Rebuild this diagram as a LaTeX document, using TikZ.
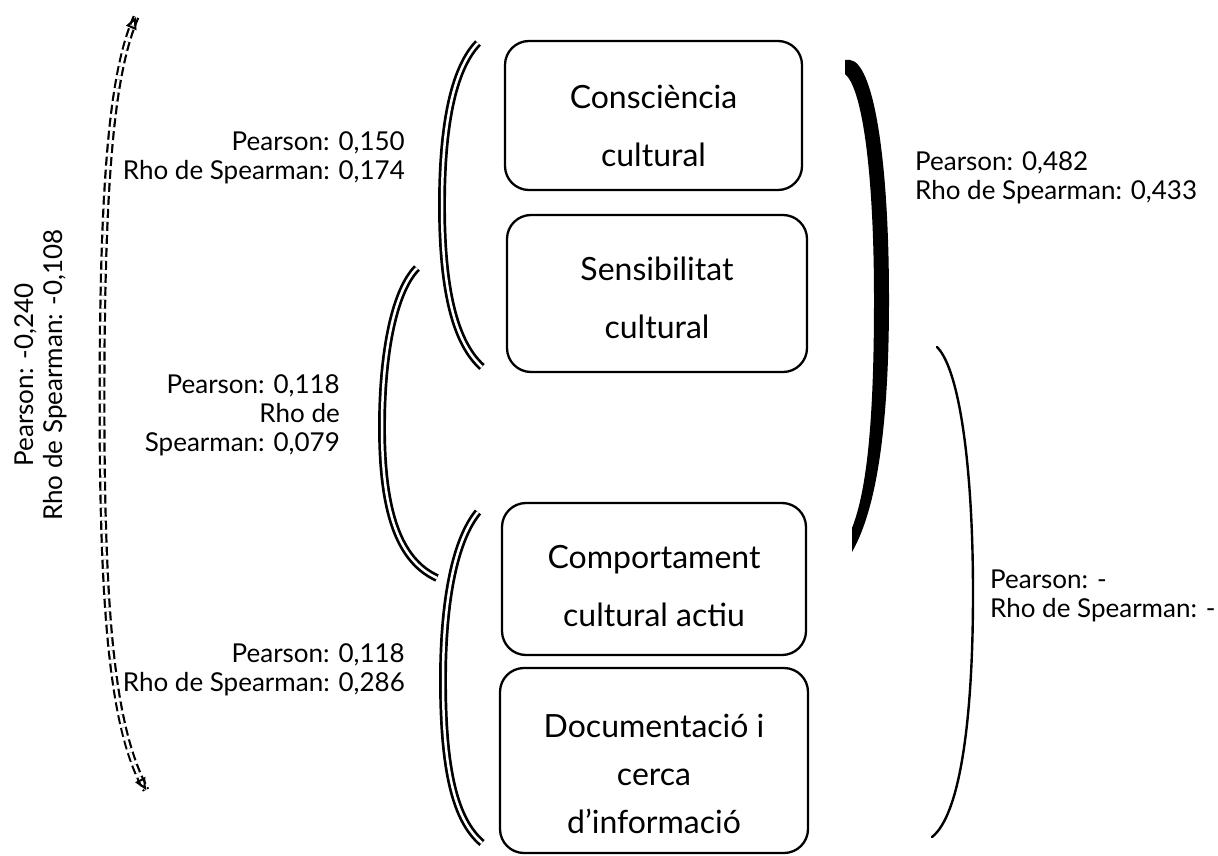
\documentclass[tikz,border=0pt]{standalone}
\usepackage{fontspec}
\setmainfont{Lato}
\usetikzlibrary{arrows.meta}
\tikzset{
  box/.style={draw, line width=2.3pt, rounded corners=24pt, inner sep=0pt},
  boxtxt/.style={align=center, inner sep=0pt, font=\fontsize{32}{58}\selectfont},
  lbl/.style={inner sep=0pt, font=\fontsize{26}{29}\selectfont},
  dbl/.style={draw, line width=2.7pt, double=white, double distance=2.5pt},
  thin/.style={draw, line width=2.4pt, line cap=round},
  dashdbl/.style={draw, line width=2.2pt, double=white, double distance=2.5pt, dash pattern=on 9pt off 4pt},
  opentip/.tip={Triangle[open,length=12pt,width=11pt,line width=2pt,color=black]},
  tipsonly/.style={draw=white, line width=0.3pt, opentip-opentip},
}
\begin{document}
\begin{tikzpicture}[x=1pt,y=-1pt]
\useasboundingbox (0,0) rectangle (1218,856);
% boxes
\node[box, minimum width=297pt, minimum height=149pt] (b1) at (653.5,115.5) {};
\node[box, minimum width=300pt, minimum height=157pt] (b2) at (657,293.5) {};
\node[box, minimum width=304pt, minimum height=152pt] (b3) at (654,579) {};
\node[box, minimum width=308pt, minimum height=185pt] (b4) at (654,760.5) {};
\node[boxtxt] (x1) at (653.5,126) {Consciència\\cultural};
\node[boxtxt] (x2) at (657,297.5) {Sensibilitat\\cultural};
\node[boxtxt] (x3) at (654,586.5) {Comportament\\cultural actiu};
\node[boxtxt, font=\fontsize{32}{48}\selectfont] (x4) at (654,774) {Documentació i\\cerca\\d’informació};
% bracket anchors
\coordinate (a1) at (478,43);  \coordinate (a2) at (482,367);
\coordinate (c1) at (417,268); \coordinate (c2) at (437,578);
\coordinate (e1) at (478,512); \coordinate (e2) at (482,843);
\coordinate (r1) at (937,347); \coordinate (r2) at (932,837);
\coordinate (d1) at (136,17);  \coordinate (d2) at (146,790);
% brackets
\path[dbl] (a1) .. controls (452,70) and (442,130) .. (442,205) .. controls (442,280) and (452,340) .. (a2);
\path[dbl] (c1) .. controls (395,290) and (382,350) .. (382,427) .. controls (382,510) and (398,560) .. (c2);
\path[dbl] (e1) .. controls (455,540) and (443,600) .. (443,680) .. controls (443,770) and (455,820) .. (e2);
\fill (845,60) -- (850,60) .. controls (872,62) and (889,150) .. (889,300) .. controls (889,430) and (876,510) .. (852,552) -- (852,528) .. controls (867,490) and (874,420) .. (874,300) .. controls (874,170) and (862,88) .. (845,74) -- cycle;
\path[thin] (r1) .. controls (960,370) and (973,470) .. (973,593) .. controls (973,720) and (960,815) .. (r2);
% dashed double arrow
\path[dashdbl] (d1) .. controls (113,70) and (102,170) .. (102,400) .. controls (102,620) and (113,730) .. (d2);
\path[tipsonly] (d1) .. controls (113,70) and (102,170) .. (102,400) .. controls (102,620) and (113,730) .. (d2);
% labels
\node[lbl, anchor=east, align=right] (l1) at (405,157.5) {Pearson: 0,150\\Rho de Spearman: 0,174};
\node[lbl, anchor=west, align=left] (l2) at (915,177.5) {Pearson: 0,482\\Rho de Spearman: 0,433};
\node[lbl, anchor=east, align=right] (l3) at (340,415) {Pearson: 0,118\\Rho de\\Spearman: 0,079};
\node[lbl, anchor=east, align=right] (l4) at (405,670) {Pearson: 0,118\\Rho de Spearman: 0,286};
\node[lbl, anchor=west, align=left] (l5) at (990,596) {Pearson: -\\Rho de Spearman: -};
\node[lbl, rotate=90, align=center] (l6) at (41,375) {Pearson: -0,240\\Rho de Spearman: -0,108};
\end{tikzpicture}
\end{document}
